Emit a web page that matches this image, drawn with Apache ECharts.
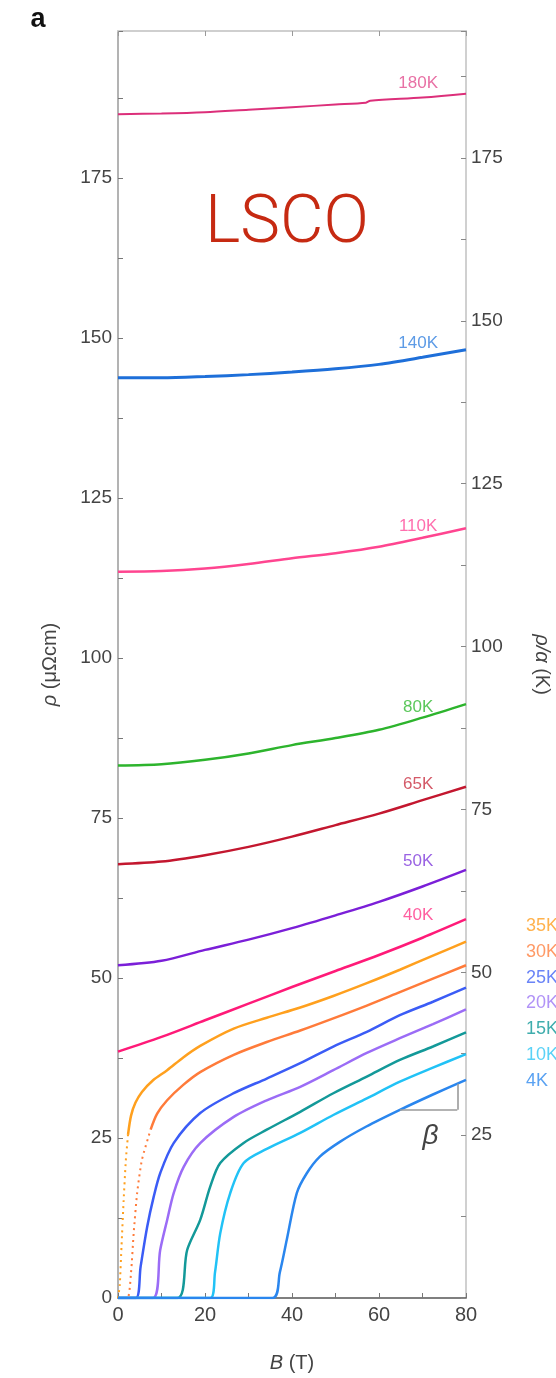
<!DOCTYPE html>
<html><head><meta charset="utf-8">
<script src="https://cdn.jsdelivr.net/npm/echarts@6/dist/echarts.min.js"></script>
<style>html,body{margin:0;padding:0;background:#fff}#c{width:556px;height:1378px}</style>
</head><body><div id="c"></div>
<script>
// ---- data: resistivity rho (μΩcm) vs field B (T), pairs [B, rho] ----
const rho180K = [[0,185.0],[10,185.1],[20,185.3],[30,185.7],[40,186.1],[50,186.5],[57,186.8],[58,187.1],[70,187.6],[80,188.2]];
const rho140K = [[0,143.8],[10,143.8],[20,144.0],[30,144.3],[40,144.7],[50,145.2],[60,145.9],[70,147.0],[80,148.2]];
const rho110K = [[0,113.5],[10,113.6],[20,114.0],[30,114.7],[40,115.6],[50,116.4],[60,117.4],[70,118.8],[80,120.3]];
const rho80K  = [[0,83.2],[10,83.4],[20,84.1],[30,85.1],[40,86.4],[50,87.5],[60,88.8],[70,90.7],[80,92.8]];
const rho65K  = [[0,67.8],[10,68.2],[20,69.2],[30,70.5],[40,72.1],[50,73.9],[60,75.7],[70,77.8],[80,79.9]];
const rho50K  = [[0,52.0],[10,52.7],[20,54.4],[30,56.0],[40,57.8],[50,59.8],[60,61.9],[70,64.3],[80,66.9]];
const rho40K  = [[0,38.5],[10,40.8],[20,43.4],[30,46.0],[40,48.6],[50,51.1],[60,53.6],[70,56.3],[80,59.2]];
const rho35K  = [[0,0],[0.4,2],[0.8,8],[1.3,15.3],[1.8,21.5],[2.3,25.5],[3,28.5],[4,30.5],[5.5,32.2],[8,34],[11.3,35.6],[15,37.6],[18.9,39.4],[26.6,42.1],[34.2,43.8],[41.9,45.4],[49.5,47.2],[57.2,49.2],[64.8,51.3],[72.4,53.5],[80,55.7]];
const rho30K  = [[0,0],[2.2,0],[3.0,4],[3.6,10.1],[4.4,16.4],[5.5,21.6],[7.5,26.3],[9,28.8],[11.3,30.9],[15,33.3],[18.9,35.3],[26.6,38.0],[34.2,40.0],[41.9,41.8],[49.5,43.7],[57.2,45.7],[64.8,47.8],[72.4,49.9],[80,52.0]];
const rho25K  = [[0,0],[4.1,0],[5.2,4.9],[6.7,11.1],[8.2,15.8],[9.7,19.5],[12.8,24.2],[18.9,28.9],[26.6,32.0],[34.2,34.3],[41.9,36.7],[49.5,39.3],[57.2,41.6],[64.8,44.2],[72.4,46.3],[80,48.5]];
const rho20K  = [[0,0],[8.0,0],[9.7,7.5],[11.3,12.2],[12.8,16.4],[15.1,20.5],[18.9,24.2],[26.6,28.3],[34.2,30.9],[41.9,33.0],[49.5,35.6],[57.2,38.3],[64.8,40.6],[72.4,42.8],[80,45.1]];
const rho15K  = [[0,0],[13.6,0],[15.9,7.5],[18.9,12.2],[21.2,17.4],[23.5,21.1],[28.8,24.2],[34.2,26.3],[41.9,29.1],[49.5,32.0],[57.2,34.6],[64.8,37.2],[72.4,39.3],[80,41.5]];
const rho10K  = [[0,0],[21.2,0],[22.3,4],[23.5,10.1],[25.8,16.4],[28.9,21.1],[34.2,23.3],[41.9,25.8],[49.5,28.6],[57.2,31.2],[64.8,33.8],[72.4,36.0],[80,38.1]];
const rho4K   = [[0,0],[35.5,0],[37.2,4],[38.8,9.1],[41.1,16.4],[43.4,19.5],[46.4,22.1],[51,24.4],[57.1,26.8],[64.8,29.4],[72.4,31.8],[80,34.1]];

const insideNames = ['180K','140K','110K','80K','65K','50K','40K'];
const outsideNames = ['35K','30K','25K','20K','15K','10K','4K'];
const xTicks = [0,20,40,60,80];
const betaB = [64.8, 78];   // slope triangle span on 4K curve

// ---- styling ----
const spec = [
  {name:'180K', data:rho180K, color:'#dc2f7a', lab:'#e871a5', w:2,   dy:15},
  {name:'140K', data:rho140K, color:'#1e6fd9', lab:'#5d9be6', w:3,   dy:15},
  {name:'110K', data:rho110K, color:'#ff4590', lab:'#ff6fae', w:2.5, dy:12},
  {name:'80K',  data:rho80K,  color:'#2db42d', lab:'#5cc85c', w:2.5, dy:12},
  {name:'65K',  data:rho65K,  color:'#c3172f', lab:'#d45a68', w:2.5, dy:17},
  {name:'50K',  data:rho50K,  color:'#7b1fd8', lab:'#9a63e3', w:2.5, dy:27},
  {name:'40K',  data:rho40K,  color:'#ff1a78', lab:'#ff5fa0', w:2.5, dy:24},
  {name:'35K',  data:rho35K,  color:'#ffa01e', lab:'#ffb24d', w:2.5, dot:2.3},
  {name:'30K',  data:rho30K,  color:'#ff7b3a', lab:'#ff9a66', w:2.5, dot:7.5},
  {name:'25K',  data:rho25K,  color:'#3b5cf6', lab:'#6a84f7', w:2.5},
  {name:'20K',  data:rho20K,  color:'#9b6cf6', lab:'#b193f7', w:2.5},
  {name:'15K',  data:rho15K,  color:'#139999', lab:'#3fadad', w:2.5},
  {name:'10K',  data:rho10K,  color:'#21c2f6', lab:'#5ad2f7', w:2.5},
  {name:'4K',   data:rho4K,   color:'#2a86ee', lab:'#5aa2f2', w:2.5}
];

function interp(arr, b){
  for (let i=1;i<arr.length;i++){
    if (b <= arr[i][0]){
      const [x0,y0]=arr[i-1],[x1,y1]=arr[i];
      return y0 + (y1-y0)*(b-x0)/(x1-x0);
    }
  }
  return arr[arr.length-1][1];
}

const FONT = 'Liberation Sans, Arial, sans-serif';
const series = [];
spec.forEach(s => {
  const base = {type:'line', name:s.name, xAxisIndex:0, yAxisIndex:0, showSymbol:false, symbol:'none',
    smooth:0.3, clip:true, lineStyle:{color:s.color, width:s.w}, itemStyle:{color:s.color}, silent:true};
  if (s.dot){
    const k = s.data.findIndex(p => p[0] >= s.dot);
    series.push(Object.assign({}, base, {data:s.data.slice(0,k+1), smooth:0.2,
      lineStyle:{color:s.color, width:2, type:[2,4]}}));
    series.push(Object.assign({}, base, {data:s.data.slice(k)}));
  } else {
    const ser = Object.assign({}, base, {data:s.data});
    if (insideNames.includes(s.name)){
      const lb = 69;
      ser.markPoint = {symbol:'circle', symbolSize:0, silent:true, animation:false,
        data:[{coord:[lb, interp(s.data, lb)], value:s.name}],
        label:{show:true, position:'inside', offset:[0,-s.dy], formatter:s.name,
          color:s.lab, fontSize:17, fontFamily:FONT}};
    }
    if (s.name === '4K'){
      const v0 = interp(s.data, betaB[0]), v1 = interp(s.data, betaB[1]);
      ser.markLine = {symbol:'none', silent:true, animation:false,
        lineStyle:{color:'#9a9a9a', width:1.6, type:'solid'}, label:{show:false},
        data:[[{coord:[betaB[0], v0]},{coord:[betaB[1], v0]}],
              [{coord:[betaB[1], v0]},{coord:[betaB[1], v1]}]]};
    }
    series.push(ser);
  }
});

const chart = echarts.init(document.getElementById('c'), null, {renderer:'canvas'});
const option = {
  animation:false,
  backgroundColor:'#fff',
  grid:{left:118, right:90, top:31, bottom:80, containLabel:false, outerBoundsMode:'none'},
  legend:{
    orient:'vertical', left:521, top:917, padding:0, icon:'none', itemWidth:0, itemHeight:18,
    itemGap:7.8, selectedMode:false,
    textStyle:{fontSize:18, fontFamily:FONT, lineHeight:18},
    data: outsideNames.map(n => ({name:n, textStyle:{color: spec.find(s=>s.name===n).lab}}))
  },
  xAxis:[
    {type:'value', position:'bottom', min:0, max:80, interval:10,
     axisLine:{show:true, onZero:false, lineStyle:{color:'#555', width:1.5}},
     axisTick:{show:true, inside:true, length:5, lineStyle:{color:'#777'}},
     axisLabel:{formatter:v => xTicks.includes(v) ? String(v) : '', fontSize:20, color:'#444', margin:7, fontFamily:FONT},
     splitLine:{show:false},
     name:'{i|B} (T)', nameLocation:'middle', nameGap:55,
     nameTextStyle:{fontSize:20, color:'#444', fontFamily:FONT, rich:{i:{fontStyle:'italic', fontSize:20, color:'#444', fontFamily:FONT}}}},
    {type:'value', position:'top', min:0, max:80, interval:20,
     axisLine:{show:true, onZero:false, lineStyle:{color:'#cfcfcf', width:2}},
     axisTick:{show:true, inside:true, length:5, lineStyle:{color:'#999'}},
     axisLabel:{show:false}, splitLine:{show:false}}
  ],
  yAxis:[
    {type:'value', position:'left', min:0, max:198, interval:12.5,
     axisLine:{show:true, onZero:false, lineStyle:{color:'#9a9a9a', width:1.5}},
     axisTick:{show:true, inside:true, length:5, lineStyle:{color:'#777'}},
     axisLabel:{formatter:v => (v % 25 === 0) ? String(v) : '', fontSize:19, color:'#444', margin:6, fontFamily:FONT},
     splitLine:{show:false},
     name:'{i|ρ} (μΩcm)', nameLocation:'middle', nameGap:58, nameRotate:90,
     nameTextStyle:{fontSize:20, color:'#444', fontFamily:FONT, rich:{i:{fontStyle:'italic', fontSize:20, color:'#444', fontFamily:FONT}}}},
    {type:'value', position:'right', min:0, max:194.5, interval:12.5,
     axisLine:{show:true, onZero:false, lineStyle:{color:'#d0d0d0', width:2}},
     axisTick:{show:true, inside:true, length:5, lineStyle:{color:'#888'}},
     axisLabel:{formatter:v => (v > 0 && v % 25 === 0) ? String(v) : '', fontSize:19, color:'#444', margin:5, fontFamily:FONT},
     splitLine:{show:false},
     name:'{i|ρ/α} (K)', nameLocation:'middle', nameGap:66, nameRotate:-90,
     nameTextStyle:{fontSize:20, color:'#444', fontFamily:FONT, rich:{i:{fontStyle:'italic', fontSize:20, color:'#444', fontFamily:FONT}}}}
  ],
  series: series
};
chart.setOption(option);

// annotations
const bMid = (betaB[0] + betaB[1]) / 2;
const pB = chart.convertToPixel({xAxisIndex:0, yAxisIndex:0}, [bMid, interp(rho4K, betaB[0])]);
chart.setOption({graphic:[
  {type:'text', x:38, y:20, style:{text:'a', font:'bold 27px "Liberation Sans", Arial, sans-serif', fill:'#111', textAlign:'center', textVerticalAlign:'middle'}},
  {type:'text', x:287, y:225, style:{text:'LSCO', font:'300 67px Roboto, "Liberation Sans", sans-serif', fill:'#c62a12', textAlign:'center', textVerticalAlign:'middle'}},
  {type:'text', x:pB[0]+2, y:pB[1]+26, style:{text:'β', font:'italic 28px "Liberation Sans", Arial, sans-serif', fill:'#444', textAlign:'center', textVerticalAlign:'middle'}}
]});
</script>
</body></html>
